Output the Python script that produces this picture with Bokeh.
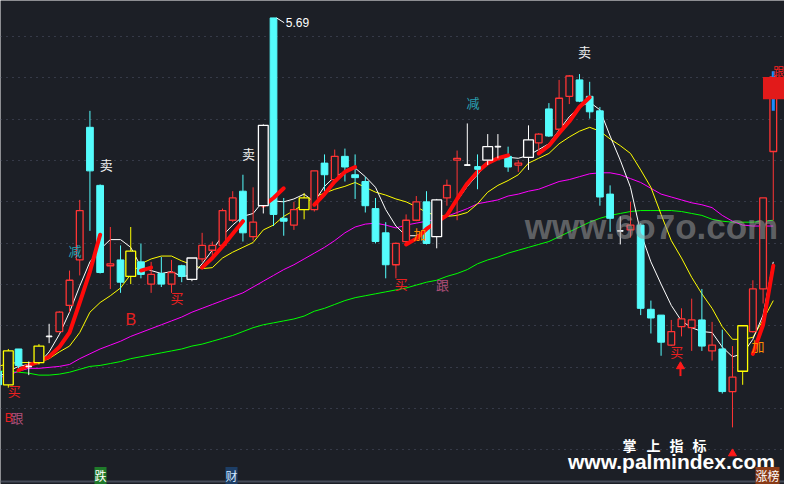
import numpy as np
from bokeh.plotting import figure
from bokeh.models import Range1d, FixedTicker, Grid, ColumnDataSource, Label, Span
from bokeh.core.properties import value
from bokeh.embed import file_html
from bokeh.resources import INLINE

BG = "#1c1f26"
CYAN = "#54fcfc"
RED = "#ff3434"
W, H = 784, 484

# ---------------- data ----------------
idx = list(range(-1, 76))
kinds = ["down", "y", "down", "wx", "y", "wx", "up", "up", "up", "down",
         "down", "up", "down", "y", "down", "up", "down", "up", "down", "w",
         "up", "up", "up", "up", "down", "up", "w", "down", "down", "up",
         "y", "up", "down", "up", "down", "down", "down", "down", "down", "up",
         "up", "up", "down", "w", "up", "up", "wx", "cx", "w", "wx",
         "down", "up", "w", "up", "down", "up", "up", "down", "down", "down",
         "down", "wx", "up", "down", "down", "down", "up", "up", "up", "down",
         "up", "down", "up", "y", "up", "up", "up"]
opens = [3.865, 3.795, 3.98, 3.89, 3.91, 4.045, 4.07, 4.205, 4.44, 5.125,
         4.825, 4.41, 4.44, 4.355, 4.43, 4.315, 4.37, 4.315, 4.41, 4.34,
         4.445, 4.49, 4.515, 4.645, 4.795, 4.56, 4.72, 5.69, 4.655, 4.62,
         4.70, 4.70, 4.94, 4.855, 4.975, 4.88, 4.845, 4.705, 4.58, 4.415,
         4.535, 4.645, 4.74, 4.56, 4.76, 4.955, 4.93, 4.92, 4.955, 5.025,
         4.975, 4.93, 4.97, 5.045, 5.22, 5.115, 5.285, 5.37, 5.285, 5.21,
         4.78, 4.59, 4.595, 4.62, 4.185, 4.155, 4.00, 4.095, 4.09, 4.13,
         3.97, 3.98, 3.76, 3.865, 4.07, 4.29, 5.00]
highs = [3.88, 3.98, 3.98, 3.915, 4.005, 4.11, 4.175, 4.385, 4.75, 5.21,
         4.83, 4.61, 4.515, 4.61, 4.525, 4.43, 4.455, 4.44, 4.415, 4.45,
         4.58, 4.535, 4.705, 4.795, 4.88, 4.815, 5.14, 5.69, 4.76, 4.74,
         4.785, 4.90, 4.985, 5.01, 5.015, 4.985, 4.87, 4.76, 4.635, 4.53,
         4.675, 4.77, 4.795, 4.755, 4.855, 5.005, 5.145, 4.985, 5.09, 5.09,
         5.025, 4.955, 5.135, 5.095, 5.25, 5.37, 5.395, 5.40, 5.36, 5.23,
         4.825, 4.665, 4.74, 4.63, 4.23, 4.155, 4.13, 4.19, 4.24, 4.29,
         4.12, 4.08, 3.995, 4.10, 4.335, 4.76, 5.415]
lows = [3.78, 3.78, 3.875, 3.845, 3.90, 4.01, 4.07, 4.17, 4.36, 4.59,
        4.37, 4.29, 4.27, 4.315, 4.345, 4.27, 4.30, 4.27, 4.325, 4.33,
        4.43, 4.455, 4.505, 4.635, 4.535, 4.54, 4.68, 4.615, 4.565, 4.595,
        4.65, 4.69, 4.795, 4.85, 4.845, 4.755, 4.685, 4.525, 4.345, 4.345,
        4.515, 4.64, 4.52, 4.50, 4.72, 4.645, 4.925, 4.805, 4.93, 4.965,
        4.895, 4.895, 4.905, 5.005, 5.075, 5.11, 5.245, 5.255, 5.17, 4.72,
        4.585, 4.52, 4.555, 4.155, 4.06, 3.945, 3.995, 4.045, 3.97, 3.97,
        3.92, 3.75, 3.575, 3.795, 4.065, 4.215, 4.645]
closes = [3.795, 3.97, 3.895, 3.89, 3.995, 4.045, 4.17, 4.335, 4.695, 4.90,
          4.375, 4.42, 4.325, 4.485, 4.365, 4.365, 4.315, 4.375, 4.355, 4.45,
          4.515, 4.515, 4.695, 4.76, 4.58, 4.635, 5.135, 4.675, 4.64, 4.70,
          4.76, 4.90, 4.88, 4.975, 4.92, 4.865, 4.72, 4.535, 4.415, 4.525,
          4.645, 4.74, 4.525, 4.75, 4.825, 4.965, 4.93, 4.91, 5.025, 5.025,
          4.92, 4.94, 5.06, 5.09, 5.08, 5.275, 5.39, 5.26, 5.205, 4.765,
          4.655, 4.59, 4.62, 4.19, 4.14, 4.015, 4.07, 4.135, 4.13, 3.995,
          4.00, 3.76, 3.835, 4.10, 4.29, 4.76, 5.385]

ma_white = [3.835, 3.865, 3.89, 3.90, 3.905, 3.965, 4.055, 4.17, 4.305, 4.43,
            4.495, 4.545, 4.545, 4.505, 4.405, 4.385, 4.37, 4.38, 4.355, 4.36,
            4.42, 4.49, 4.565, 4.62, 4.665, 4.68, 4.745, 4.745, 4.74, 4.755,
            4.78, 4.74, 4.82, 4.87, 4.895, 4.915, 4.87, 4.815, 4.70, 4.615,
            4.565, 4.565, 4.59, 4.63, 4.67, 4.745, 4.82, 4.88, 4.94, 4.965,
            4.97, 4.965, 4.98, 5.01, 5.04, 5.11, 5.18, 5.23, 5.255, 5.215,
            5.08, 4.955, 4.815, 4.58, 4.43, 4.315, 4.205, 4.125, 4.09, 4.07,
            4.065, 3.99, 3.94, 3.955, 4.03, 4.155, 4.43]
ma_yellow = [3.89, 3.905, 3.91, 3.91, 3.91, 3.93, 3.965, 3.995, 4.065, 4.17,
             4.22, 4.255, 4.295, 4.365, 4.42, 4.445, 4.46, 4.46, 4.435, 4.415,
             4.395, 4.40, 4.45, 4.48, 4.505, 4.53, 4.595, 4.62, 4.665, 4.695,
             4.73, 4.765, 4.785, 4.805, 4.82, 4.84, 4.815, 4.79, 4.775, 4.755,
             4.74, 4.715, 4.685, 4.67, 4.665, 4.67, 4.685, 4.73, 4.79, 4.825,
             4.85, 4.88, 4.94, 4.965, 4.99, 5.04, 5.075, 5.105, 5.125, 5.105,
             5.065, 5.03, 4.99, 4.905, 4.815, 4.675, 4.54, 4.45, 4.35, 4.265,
             4.19, 4.095, 4.03, 4.03, 4.04, 4.13, 4.23]
ma_magenta = [3.83, 3.845, 3.865, 3.88, 3.88, 3.885, 3.89, 3.90, 3.93, 3.955,
              3.98, 4.00, 4.02, 4.045, 4.065, 4.085, 4.105, 4.125, 4.145, 4.17,
              4.19, 4.21, 4.23, 4.25, 4.27, 4.30, 4.33, 4.36, 4.39, 4.415,
              4.445, 4.475, 4.505, 4.54, 4.58, 4.61, 4.625, 4.63, 4.62, 4.605,
              4.62, 4.63, 4.64, 4.65, 4.665, 4.685, 4.705, 4.73, 4.74, 4.75,
              4.77, 4.78, 4.795, 4.805, 4.825, 4.845, 4.855, 4.87, 4.885, 4.89,
              4.89, 4.88, 4.86, 4.84, 4.81, 4.78, 4.765, 4.75, 4.735, 4.725,
              4.71, 4.67, 4.64, 4.62, 4.615, 4.615, 4.615]
ma_green = [3.865, 3.865, 3.86, 3.855, 3.845, 3.845, 3.85, 3.86, 3.875, 3.89,
            3.895, 3.905, 3.915, 3.93, 3.94, 3.95, 3.96, 3.97, 3.98, 3.995,
            4.005, 4.02, 4.035, 4.05, 4.07, 4.09, 4.105, 4.115, 4.125, 4.135,
            4.15, 4.175, 4.19, 4.21, 4.23, 4.245, 4.255, 4.265, 4.275, 4.285,
            4.295, 4.31, 4.325, 4.335, 4.355, 4.37, 4.39, 4.42, 4.44, 4.455,
            4.475, 4.49, 4.505, 4.52, 4.535, 4.56, 4.585, 4.61, 4.635, 4.655,
            4.67, 4.68, 4.69, 4.695, 4.695, 4.695, 4.695, 4.69, 4.68, 4.67,
            4.65, 4.64, 4.635, 4.635, 4.635, 4.64, 4.645]

# red trend segments (index lists, value lists)
trend_x = [[1, 2, 3, 4, 5, 6, 7, 8, 9],
           [13, 14],
           [19, 20, 21, 22, 23],
           [25, 26, 27],
           [30, 31, 32, 33, 34],
           [39, 40, 41, 42, 43, 44, 45, 46, 47, 48, 49],
           [52, 53, 54, 55, 56, 57],
           [73, 74, 75]]
trend_y = [[3.87, 3.895, 3.915, 3.94, 3.99, 4.065, 4.22, 4.38, 4.57],
           [4.385, 4.40],
           [4.40, 4.45, 4.51, 4.575, 4.64],
           [4.72, 4.76, 4.81],
           [4.725, 4.78, 4.845, 4.895, 4.92],
           [4.52, 4.55, 4.60, 4.635, 4.67, 4.755, 4.835, 4.895, 4.94, 4.965, 4.98],
           [4.99, 5.03, 5.095, 5.155, 5.23, 5.28],
           [3.955, 4.105, 4.41]]

# signal texts: (index position, price, text, color, size)
signals = [
    (9.61, 4.935, "卖", "#f0f0f0", "13px"),
    (23.54, 4.99, "卖", "#f0f0f0", "13px"),
    (56.5, 5.515, "卖", "#f0f0f0", "13px"),
    (6.53, 4.49, "减", "#2aa0b0", "13px"),
    (45.55, 5.255, "减", "#2aa0b0", "13px"),
    (0.58, 3.765, "买", "#e82020", "13px"),
    (16.53, 4.245, "买", "#e82020", "13px"),
    (38.53, 4.32, "买", "#e82020", "13px"),
    (65.53, 3.965, "买", "#e82020", "13px"),
    (42.57, 4.315, "跟", "#b0507a", "13px"),
    (0.85, 3.625, "跟", "#b0507a", "13px"),
    (40.36, 4.575, "加", "#ff8c00", "13px"),
    (73.5, 4.0, "加", "#ff8c00", "13px"),
]

grid_ticks = [5.595, 5.38, 5.165, 4.955, 4.74, 4.525, 4.315, 4.10, 3.885, 3.67, 3.46]

# ---------------- figure ----------------
p = figure(width=W, height=H, output_backend="svg", toolbar_location=None,
           x_range=Range1d(-0.769, 76.10), y_range=Range1d(3.28, 5.78),
           x_axis_type=None, y_axis_type=None, min_border=0,
           background_fill_color=BG, border_fill_color=BG, outline_line_color=None)

p.add_layout(Grid(dimension=1, ticker=FixedTicker(ticks=grid_ticks),
                  grid_line_color="#50566a", grid_line_dash="1 5", grid_line_width=1))

p.add_layout(Span(location=3.295, dimension="width", line_color="#454b58", line_width=2))

# moving averages
p.line(idx, ma_green, line_color="#00ff00", line_width=1)
p.line(idx, ma_magenta, line_color="#ff00ff", line_width=1)
p.line(idx, ma_yellow, line_color="#ffff00", line_width=1)
p.line(idx, ma_white, line_color="#ffffff", line_width=1)

o = np.array(opens); c = np.array(closes); hi = np.array(highs); lo = np.array(lows)
top = np.maximum(o, c); bot = np.minimum(o, c)
xs = np.array(idx, dtype=float)
kinds_a = np.array(kinds)

def sel(kind):
    m = kinds_a == kind
    return dict(x=xs[m], top=top[m], bot=bot[m], hi=hi[m], lo=lo[m])

# down candles: filled cyan
d = sel("down")
p.segment(d["x"], d["hi"], d["x"], d["lo"], line_color=CYAN, line_width=1)
p.vbar(x=d["x"], width=0.66, top=d["top"], bottom=d["bot"], fill_color=CYAN, line_color=CYAN)

# up candles: hollow red
u = sel("up")
p.segment(u["x"], u["hi"], u["x"], u["top"], line_color=RED, line_width=1)
p.segment(u["x"], u["bot"], u["x"], u["lo"], line_color=RED, line_width=1)
p.vbar(x=u["x"], width=0.66, top=u["top"], bottom=u["bot"], fill_color=BG, line_color=RED, line_width=1.3)

# red trend line
p.multi_line(trend_x, trend_y, line_color="#ff0a0a", line_width=4, line_cap="round")

# hollow white / yellow candles
for kind, col in (("w", "#ffffff"), ("y", "#ffff00")):
    s = sel(kind)
    p.segment(s["x"], s["hi"], s["x"], s["top"], line_color=col, line_width=1)
    p.segment(s["x"], s["bot"], s["x"], s["lo"], line_color=col, line_width=1)
    p.vbar(x=s["x"], width=0.96, top=s["top"], bottom=s["bot"], fill_color=BG, line_color=col, line_width=1.3)

# doji crosses
for kind, col in (("wx", "#ffffff"), ("cx", CYAN)):
    s = sel(kind)
    p.segment(s["x"], s["hi"], s["x"], s["lo"], line_color=col, line_width=1)
    p.vbar(x=s["x"], width=0.55, top=s["top"] + 0.002, bottom=s["bot"] - 0.002, fill_color=col, line_color=col)

# limit-up marker at the right end
p.quad(left=[74.85], right=[75.15], top=[5.415], bottom=[5.21], fill_color="#1a8cff", line_color=None)
p.quad(left=[73.99], right=[76.1], top=[5.385], bottom=[5.27], fill_color="#e21a1a", line_color=None)
p.text(x=[76.08], y=[5.415], text=["跟"], text_color="#ff2020", text_font=value("Noto Sans CJK SC"),
       text_font_size="11px", text_align="right", text_baseline="middle")

# high label
p.segment([26.3], [5.69], [27.05], [5.665], line_color="#ffffff", line_width=1)
p.text(x=[27.2], y=[5.665], text=["5.69"], text_color="#ffffff", text_font=value("Liberation Sans"),
       text_font_size="12px", text_align="left", text_baseline="middle")

# signal texts
for (x0, y0, t, col, fs) in signals:
    p.text(x=[x0], y=[y0], text=[t], text_color=col, text_font=value("Noto Sans CJK SC"),
           text_font_size=fs, text_align="center", text_baseline="middle")
p.text(x=[12.0], y=[4.13], text=["B"], text_color="#e82020", text_font=value("Liberation Sans"),
       text_font_size="16px", text_align="center", text_baseline="middle")
p.text(x=[0.05], y=[3.625], text=["B"], text_color="#e82020", text_font=value("Liberation Sans"),
       text_font_size="12px", text_align="center", text_baseline="middle")

# arrows
p.segment([65.9], [3.895], [65.9], [3.84], line_color="#ff1a1a", line_width=2)
p.scatter([65.9], [3.89], marker="triangle", size=8, fill_color="#ff1a1a", line_color="#ff1a1a")
p.scatter([71.0], [3.44], marker="triangle", size=8, fill_color="#ff1a1a", line_color="#ff1a1a")

# watermarks and bottom tags (screen units)
def lab(x, y, t, **kw):
    p.add_layout(Label(x=x, y=y, x_units="screen", y_units="screen", text=t, **kw))

lab(651, 258, "www.6o7o.com", text_font="Liberation Sans", text_font_size="35px",
    text_font_style="bold", text_color="#9a9a9a", text_alpha=0.55,
    text_align="center", text_baseline="middle")
for cx, ch in zip([629, 653, 676, 699], ["掌", "上", "指", "标"]):
    lab(cx, 40, ch, text_font="Noto Sans CJK SC", text_font_size="14px",
        text_font_style="bold", text_color="#ffffff", text_align="center", text_baseline="middle")
lab(671, 23, "www.palmindex.com", text_font="Liberation Sans", text_font_size="21px",
    text_font_style="bold", text_color="#ffffff", text_align="center", text_baseline="middle")
lab(100, 9, "跌", text_font="Noto Sans CJK SC", text_font_size="12px", text_color="#ffffff",
    background_fill_color="#1f7a2a", text_align="center", text_baseline="middle")
lab(231, 9, "财", text_font="Noto Sans CJK SC", text_font_size="12px", text_color="#cfe6ff",
    background_fill_color="#1d3e66", text_align="center", text_baseline="middle")
lab(767, 9, "涨榜", text_font="Noto Sans CJK SC", text_font_size="12px", text_color="#ffffff",
    background_fill_color="#8a3a16", text_align="center", text_baseline="middle")

open("out.html", "w").write(file_html(p, INLINE))
